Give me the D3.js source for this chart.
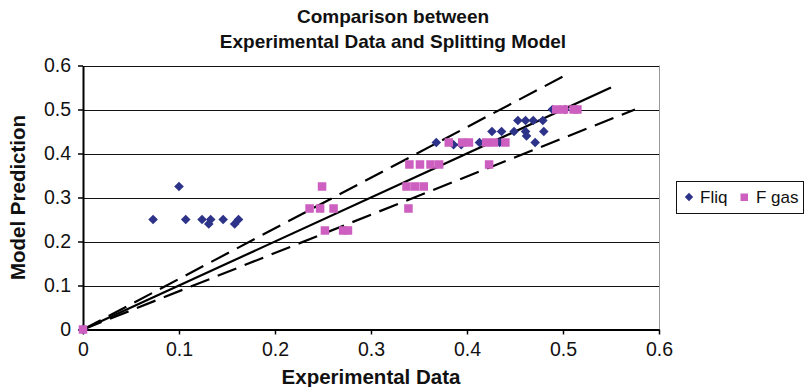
<!DOCTYPE html>
<html>
<head>
<meta charset="utf-8">
<script src="https://cdn.jsdelivr.net/npm/d3@7"></script>
<style>
  html, body { margin: 0; padding: 0; background: #fff; }
  svg { display: block; font-family: "Liberation Sans", Arial, sans-serif; }
</style>
</head>
<body>
<svg id="chart" width="805" height="387"></svg>
<script>
// ---- data ----
const fliqX = [0, 0.073, 0.100, 0.107, 0.124, 0.133, 0.131, 0.146, 0.158, 0.162,
  0.368, 0.386, 0.394, 0.413, 0.434, 0.426, 0.436, 0.449, 0.453, 0.461, 0.469, 0.479,
  0.461, 0.462, 0.480, 0.471, 0.489, 0.502];
const fliqY = [0, 0.25, 0.325, 0.25, 0.25, 0.25, 0.24, 0.25, 0.24, 0.25,
  0.425, 0.42, 0.42, 0.425, 0.425, 0.45, 0.45, 0.45, 0.475, 0.475, 0.475, 0.475,
  0.45, 0.44, 0.45, 0.425, 0.5, 0.5];
const fgasX = [0, 0.236, 0.247, 0.249, 0.261, 0.252, 0.271, 0.276,
  0.339, 0.337, 0.346, 0.355, 0.340, 0.351, 0.362, 0.371, 0.423,
  0.381, 0.395, 0.402, 0.420, 0.428, 0.440,
  0.493, 0.501, 0.511, 0.515];
const fgasY = [0, 0.275, 0.275, 0.325, 0.275, 0.225, 0.225, 0.225,
  0.275, 0.325, 0.325, 0.325, 0.375, 0.375, 0.375, 0.375, 0.375,
  0.425, 0.425, 0.425, 0.425, 0.425, 0.425,
  0.5, 0.5, 0.5, 0.5];
const parityLine = [[0, 0], [0.55, 0.55]];
const upperLine = [[0, 0], [0.5, 0.575]];
const lowerLine = [[0, 0], [0.575, 0.5]];
const tickValues = [0, 0.1, 0.2, 0.3, 0.4, 0.5, 0.6];
const tickLabels = ["0", "0.1", "0.2", "0.3", "0.4", "0.5", "0.6"];
const titleLines = ["Comparison between", "Experimental Data and Splitting Model"];
const xTitle = "Experimental Data";
const yTitle = "Model Prediction";
const seriesNames = ["Fliq", "F gas"];

// ---- layout ----
const L = 83, R = 659, T = 65.5, B = 329.5;
const navy = "#2d3388", pink = "#cc5fbf";
const svg = d3.select("#chart");
const x = d3.scaleLinear().domain([0, 0.6]).range([L, R]);
const y = d3.scaleLinear().domain([0, 0.6]).range([B, T]);

// gridlines
svg.append("g").selectAll("line").data(tickValues.slice(1)).join("line")
  .attr("x1", L).attr("x2", R)
  .attr("y1", d => Math.round(y(d)) + 0.5).attr("y2", d => Math.round(y(d)) + 0.5)
  .attr("stroke", "#111").attr("stroke-width", 1);
// right border
svg.append("line").attr("x1", R + 0.5).attr("x2", R + 0.5)
  .attr("y1", T).attr("y2", B).attr("stroke", "#999").attr("stroke-width", 1);

// axes
const fmt = d => tickLabels[tickValues.indexOf(d)];
const xAxis = svg.append("g").attr("transform", `translate(0,${B})`)
  .call(d3.axisBottom(x).tickValues(tickValues).tickFormat(fmt).tickSize(5).tickSizeOuter(0));
const yAxis = svg.append("g").attr("transform", `translate(${L},0)`)
  .call(d3.axisLeft(y).tickValues(tickValues).tickFormat(fmt).tickSize(5).tickSizeOuter(0));
[xAxis, yAxis].forEach(g => {
  g.select(".domain").attr("stroke", "#000").attr("stroke-width", 2);
  g.selectAll(".tick line").attr("stroke", "#000").attr("stroke-width", 1.5);
  g.selectAll(".tick text").attr("fill", "#111").style("font-size", "19.5px")
    .style("font-family", "Liberation Sans, Arial, sans-serif");
});
xAxis.selectAll(".tick text").attr("y", 8).attr("dy", "0.95em");
yAxis.selectAll(".tick text").attr("x", -12);

// reference lines
const line = d3.line().x(d => x(d[0])).y(d => y(d[1]));
svg.append("path").attr("d", line(parityLine)).attr("fill", "none")
  .attr("stroke", "#000").attr("stroke-width", 2.2);
[upperLine, lowerLine].forEach(ln => {
  svg.append("path").attr("d", line(ln)).attr("fill", "none")
    .attr("stroke", "#000").attr("stroke-width", 2.2).attr("stroke-dasharray", "20,9");
});

// markers
const diamond = r => `M0,${-r}L${r},0L0,${r}L${-r},0Z`;
svg.append("g").selectAll("path").data(fliqX.map((v, i) => [v, fliqY[i]])).join("path")
  .attr("d", diamond(4.8))
  .attr("transform", d => `translate(${x(d[0])},${y(d[1])})`)
  .attr("fill", navy);
const sq = 8.5;
svg.append("g").selectAll("rect").data(fgasX.map((v, i) => [v, fgasY[i]])).join("rect")
  .attr("x", d => x(d[0]) - sq / 2).attr("y", d => y(d[1]) - sq / 2)
  .attr("width", sq).attr("height", sq).attr("fill", pink);

// titles
const title = svg.append("text").attr("text-anchor", "middle")
  .attr("font-weight", "bold").attr("font-size", 19).attr("fill", "#111");
title.append("tspan").attr("x", 393).attr("y", 23).text(titleLines[0]);
title.append("tspan").attr("x", 393).attr("y", 48).text(titleLines[1]);
svg.append("text").attr("x", (L + R) / 2).attr("y", 384).attr("text-anchor", "middle")
  .attr("font-weight", "bold").attr("font-size", 20.5).attr("fill", "#111").text(xTitle);
svg.append("text").attr("transform", `translate(25,${(T + B) / 2}) rotate(-90)`)
  .attr("text-anchor", "middle").attr("font-weight", "bold").attr("font-size", 20.5)
  .attr("fill", "#111").text(yTitle);

// legend
const lg = svg.append("g");
lg.append("rect").attr("x", 676.5).attr("y", 181.5).attr("width", 127).attr("height", 32)
  .attr("fill", "#fff").attr("stroke", "#111").attr("stroke-width", 1);
lg.append("path").attr("d", diamond(4.2)).attr("transform", "translate(689,197)").attr("fill", navy);
lg.append("text").attr("x", 700).attr("y", 203).attr("font-size", 17).attr("fill", "#111").text(seriesNames[0]);
lg.append("rect").attr("x", 740.5).attr("y", 193.5).attr("width", 7.5).attr("height", 7.5).attr("fill", pink);
lg.append("text").attr("x", 756).attr("y", 203).attr("font-size", 17).attr("fill", "#111").text(seriesNames[1]);
</script>
</body>
</html>
